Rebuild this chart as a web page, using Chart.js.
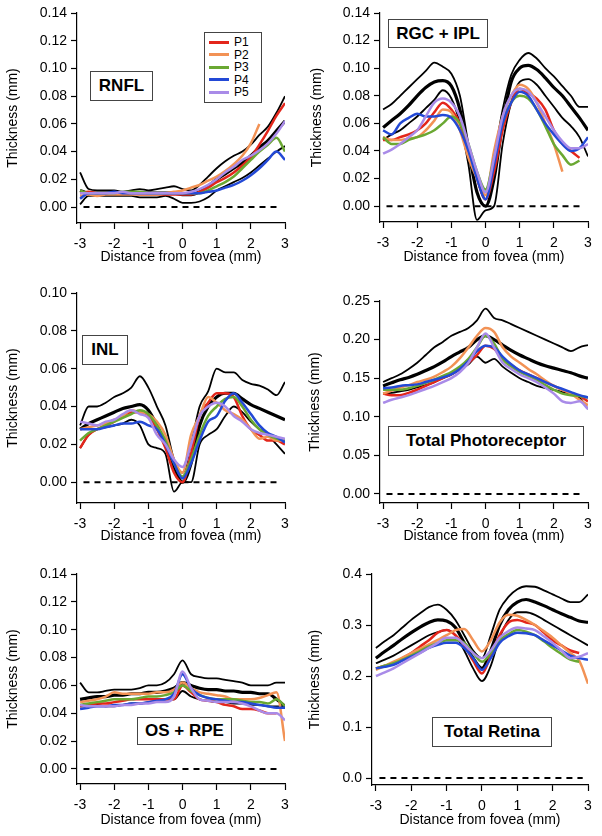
<!DOCTYPE html>
<html>
<head>
<meta charset="utf-8">
<title>Layer thickness vs distance from fovea</title>
<script src="https://cdn.jsdelivr.net/npm/chart.js@4.4.1/dist/chart.umd.min.js"></script>
<style>
  body { margin: 0; background: #fff; width: 602px; height: 836px; position: relative; overflow: hidden;
         font-family: "Liberation Sans", Arial, sans-serif; }
  canvas { position: absolute; }
  .tag { position: absolute; box-sizing: border-box; border: 1px solid #444; background: #fff;
         font-weight: bold; font-size: 17px; color: #000;
         display: flex; align-items: center; justify-content: center; white-space: nowrap; }
  .legend { position: absolute; box-sizing: border-box; border: 1px solid #444; background: #fff;
            font-size: 12px; color: #000; padding: 3px 0 0 4px; }
  .legend div { height: 12.5px; line-height: 12.5px; display: flex; align-items: center; }
  .legend span.swatch { display: inline-block; width: 20px; height: 3px; margin-right: 5px; }
</style>
</head>
<body>

<canvas id="rnfl" width="300" height="270" style="left:0;top:0"></canvas>
<canvas id="rgc" width="302" height="270" style="left:300px;top:0"></canvas>
<canvas id="inl" width="300" height="280" style="left:0;top:270px"></canvas>
<canvas id="photo" width="302" height="280" style="left:300px;top:270px"></canvas>
<canvas id="osrpe" width="300" height="286" style="left:0;top:550px"></canvas>
<canvas id="retina" width="302" height="286" style="left:300px;top:550px"></canvas>

<div class="tag" style="left:90px;top:71px;width:63px;height:30px">RNFL</div>
<div class="tag" style="left:388px;top:19px;width:100px;height:29px">RGC + IPL</div>
<div class="tag" style="left:82px;top:335px;width:46px;height:30px">INL</div>
<div class="tag" style="left:388px;top:426px;width:196px;height:30px">Total Photoreceptor</div>
<div class="tag" style="left:137px;top:717px;width:95px;height:28px">OS + RPE</div>
<div class="tag" style="left:432px;top:717px;width:120px;height:30px">Total Retina</div>
<div class="legend" id="legend" style="left:204px;top:32px;width:58px;height:71px"></div>

<script>
// x positions (mm from fovea)
const distance = [-3, -2.75, -2.5, -2.25, -2, -1.75, -1.5, -1.25, -1, -0.75, -0.5, -0.25,
                  0, 0.25, 0.5, 0.75, 1, 1.25, 1.5, 1.75, 2, 2.25, 2.5, 2.75, 3];
const distanceTicks = [-3, -2, -1, 0, 1, 2, 3];
const zeroLineX = [-2.9, 2.85];

const seriesNames = ['P1', 'P2', 'P3', 'P4', 'P5'];
const seriesColors = ['#e3261b', '#f29255', '#6aa832', '#2349d6', '#a98be8'];

// RNFL
const rnflTicks = [0, 0.02, 0.04, 0.06, 0.08, 0.10, 0.12, 0.14];
const rnflUpper = [0.025, 0.013, 0.012, 0.012, 0.012, 0.011, 0.012, 0.013, 0.012, 0.013, 0.014, 0.015, 0.013, 0.012, 0.016, 0.022, 0.028, 0.033, 0.037, 0.040, 0.045, 0.052, 0.058, 0.068, 0.080];
const rnflMean  = [0.012, 0.010, 0.010, 0.010, 0.010, 0.010, 0.010, 0.010, 0.010, 0.010, 0.010, 0.010, 0.009, 0.009, 0.011, 0.015, 0.020, 0.024, 0.028, 0.032, 0.037, 0.043, 0.048, 0.055, 0.062];
const rnflLower = [0.002, 0.008, 0.008, 0.008, 0.008, 0.008, 0.008, 0.007, 0.007, 0.007, 0.008, 0.006, 0.003, 0.003, 0.004, 0.007, 0.012, 0.015, 0.018, 0.021, 0.025, 0.030, 0.035, 0.040, 0.044];
const rnflP1 = [0.010, 0.011, 0.010, 0.010, 0.010, 0.010, 0.010, 0.009, 0.009, 0.009, 0.009, 0.009, 0.009, 0.009, 0.011, 0.014, 0.018, 0.021, 0.025, 0.030, 0.036, 0.045, 0.055, 0.066, 0.075];
const rnflP2 = [0.008, 0.009, 0.008, 0.009, 0.009, 0.009, 0.009, 0.009, 0.009, 0.009, 0.010, 0.011, 0.012, 0.014, 0.016, 0.019, 0.022, 0.026, 0.031, 0.037, 0.046, 0.060, null, null, null];
const rnflP3 = [0.012, 0.010, 0.010, 0.010, 0.010, 0.011, 0.011, 0.011, 0.010, 0.010, 0.010, 0.010, 0.010, 0.010, 0.010, 0.012, 0.015, 0.018, 0.022, 0.028, 0.034, 0.040, 0.045, 0.050, 0.040];
const rnflP4 = [0.006, 0.010, 0.010, 0.010, 0.011, 0.010, 0.010, 0.010, 0.010, 0.010, 0.010, 0.010, 0.010, 0.010, 0.010, 0.011, 0.012, 0.014, 0.016, 0.019, 0.023, 0.028, 0.034, 0.040, 0.034];
const rnflP5 = [0.010, 0.010, 0.010, 0.010, 0.010, 0.011, 0.010, 0.010, 0.010, 0.010, 0.010, 0.010, 0.010, 0.011, 0.013, 0.016, 0.020, 0.025, 0.029, 0.034, 0.037, 0.041, 0.046, 0.053, 0.062];

// RGC + IPL
const rgcTicks = [0, 0.02, 0.04, 0.06, 0.08, 0.10, 0.12, 0.14];
const rgcUpper = [0.070, 0.074, 0.080, 0.086, 0.092, 0.098, 0.104, 0.101, 0.096, 0.080, 0.045, 0.020, 0.005, 0.035, 0.070, 0.095, 0.106, 0.111, 0.107, 0.100, 0.094, 0.087, 0.080, 0.072, 0.072];
const rgcMean  = [0.057, 0.062, 0.067, 0.073, 0.080, 0.086, 0.090, 0.091, 0.087, 0.070, 0.040, 0.010, 0.000, 0.020, 0.060, 0.090, 0.100, 0.102, 0.099, 0.093, 0.086, 0.080, 0.072, 0.064, 0.055];
const rgcLower = [0.048, 0.052, 0.055, 0.060, 0.065, 0.071, 0.077, 0.084, 0.078, 0.060, 0.030, -0.010, -0.003, 0.000, 0.045, 0.075, 0.090, 0.092, 0.088, 0.080, 0.072, 0.064, 0.058, 0.050, 0.036];
const rgcP1 = [0.048, 0.048, 0.050, 0.052, 0.055, 0.060, 0.068, 0.075, 0.070, 0.060, 0.040, 0.020, 0.005, 0.025, 0.055, 0.075, 0.085, 0.082, 0.078, 0.070, 0.055, 0.045, 0.040, 0.035, null];
const rgcP2 = [0.050, 0.048, 0.048, 0.049, 0.050, 0.055, 0.062, 0.070, 0.068, 0.055, 0.035, 0.020, 0.008, 0.040, 0.065, 0.080, 0.088, 0.085, 0.075, 0.060, 0.045, 0.025, null, null, null];
const rgcP3 = [0.050, 0.045, 0.045, 0.048, 0.050, 0.052, 0.055, 0.060, 0.065, 0.060, 0.045, 0.025, 0.012, 0.035, 0.060, 0.075, 0.080, 0.078, 0.070, 0.058, 0.045, 0.037, 0.030, 0.033, null];
const rgcP4 = [0.055, 0.052, 0.060, 0.064, 0.067, 0.065, 0.065, 0.066, 0.064, 0.055, 0.040, 0.020, 0.005, 0.030, 0.060, 0.075, 0.083, 0.080, 0.070, 0.060, 0.052, 0.045, 0.040, 0.042, 0.050];
const rgcP5 = [0.038, 0.041, 0.045, 0.050, 0.055, 0.065, 0.075, 0.078, 0.075, 0.065, 0.045, 0.025, 0.010, 0.035, 0.065, 0.080, 0.085, 0.083, 0.075, 0.065, 0.055, 0.047, 0.042, 0.042, 0.045];

// INL
const inlTicks = [0, 0.02, 0.04, 0.06, 0.08, 0.10];
const inlUpper = [0.030, 0.040, 0.040, 0.042, 0.045, 0.047, 0.050, 0.056, 0.050, 0.040, 0.030, 0.012, 0.005, 0.020, 0.040, 0.048, 0.060, 0.058, 0.058, 0.054, 0.052, 0.051, 0.049, 0.046, 0.053];
const inlMean  = [0.028, 0.031, 0.033, 0.035, 0.037, 0.039, 0.040, 0.041, 0.038, 0.030, 0.020, 0.008, 0.000, 0.010, 0.030, 0.040, 0.045, 0.047, 0.047, 0.044, 0.041, 0.039, 0.037, 0.035, 0.033];
const inlLower = [0.018, 0.025, 0.028, 0.029, 0.030, 0.031, 0.033, 0.030, 0.020, 0.018, 0.015, -0.005, 0.000, 0.000, 0.020, 0.025, 0.028, 0.035, 0.040, 0.037, 0.032, 0.028, 0.025, 0.020, 0.015];
const inlP1 = [0.018, 0.025, 0.028, 0.030, 0.032, 0.035, 0.037, 0.037, 0.035, 0.028, 0.018, 0.005, 0.000, 0.015, 0.035, 0.042, 0.047, 0.047, 0.045, 0.035, 0.028, 0.025, 0.022, 0.022, 0.020];
const inlP2 = [0.028, 0.029, 0.030, 0.031, 0.033, 0.035, 0.038, 0.037, 0.036, 0.032, 0.025, 0.012, 0.005, 0.025, 0.035, 0.045, 0.042, 0.038, 0.036, 0.033, 0.028, 0.023, 0.024, 0.022, 0.022];
const inlP3 = [0.022, 0.026, 0.028, 0.030, 0.032, 0.034, 0.036, 0.038, 0.036, 0.030, 0.022, 0.010, 0.003, 0.012, 0.025, 0.035, 0.040, 0.044, 0.045, 0.040, 0.033, 0.028, 0.025, 0.023, 0.022];
const inlP4 = [0.028, 0.028, 0.028, 0.029, 0.030, 0.031, 0.031, 0.032, 0.030, 0.028, 0.020, 0.010, 0.002, 0.010, 0.022, 0.032, 0.035, 0.043, 0.047, 0.042, 0.036, 0.030, 0.026, 0.024, 0.021];
const inlP5 = [0.032, 0.031, 0.030, 0.032, 0.033, 0.036, 0.038, 0.036, 0.034, 0.025, 0.020, 0.012, 0.008, 0.020, 0.035, 0.040, 0.042, 0.040, 0.035, 0.032, 0.028, 0.026, 0.025, 0.024, 0.023];

// Total Photoreceptor
const photoTicks = [0, 0.05, 0.10, 0.15, 0.20, 0.25];
const photoUpper = [0.145, 0.150, 0.155, 0.162, 0.170, 0.180, 0.190, 0.197, 0.205, 0.210, 0.215, 0.225, 0.240, 0.228, 0.225, 0.220, 0.215, 0.210, 0.205, 0.200, 0.195, 0.190, 0.185, 0.190, 0.193];
const photoMean  = [0.140, 0.144, 0.148, 0.151, 0.155, 0.160, 0.165, 0.171, 0.178, 0.184, 0.190, 0.200, 0.205, 0.200, 0.193, 0.186, 0.180, 0.175, 0.170, 0.166, 0.163, 0.160, 0.157, 0.153, 0.150];
const photoLower = [0.130, 0.131, 0.133, 0.135, 0.138, 0.141, 0.145, 0.150, 0.155, 0.161, 0.168, 0.178, 0.170, 0.175, 0.165, 0.157, 0.150, 0.145, 0.140, 0.137, 0.135, 0.132, 0.130, 0.125, 0.110];
const photoP1 = [0.130, 0.128, 0.128, 0.131, 0.135, 0.140, 0.145, 0.150, 0.155, 0.162, 0.170, 0.180, 0.192, 0.188, 0.175, 0.167, 0.160, 0.155, 0.150, 0.145, 0.140, 0.135, 0.130, 0.127, 0.120];
const photoP2 = [0.130, 0.134, 0.138, 0.141, 0.145, 0.148, 0.152, 0.158, 0.165, 0.176, 0.190, 0.205, 0.215, 0.210, 0.190, 0.178, 0.170, 0.162, 0.155, 0.147, 0.140, 0.135, 0.130, 0.122, 0.115];
const photoP3 = [0.135, 0.135, 0.135, 0.137, 0.140, 0.144, 0.148, 0.153, 0.158, 0.165, 0.175, 0.190, 0.205, 0.195, 0.175, 0.165, 0.158, 0.153, 0.148, 0.141, 0.135, 0.130, 0.128, 0.127, 0.125];
const photoP4 = [0.137, 0.138, 0.140, 0.141, 0.142, 0.145, 0.148, 0.151, 0.155, 0.162, 0.172, 0.185, 0.192, 0.190, 0.178, 0.168, 0.160, 0.155, 0.150, 0.145, 0.140, 0.136, 0.132, 0.128, 0.125];
const photoP5 = [0.118, 0.122, 0.125, 0.128, 0.132, 0.136, 0.140, 0.145, 0.150, 0.158, 0.170, 0.190, 0.208, 0.190, 0.170, 0.162, 0.155, 0.150, 0.145, 0.138, 0.130, 0.120, 0.118, 0.120, 0.110];

// OS + RPE
const osTicks = [0, 0.02, 0.04, 0.06, 0.08, 0.10, 0.12, 0.14];
const osUpper = [0.062, 0.055, 0.055, 0.056, 0.057, 0.057, 0.057, 0.058, 0.060, 0.060, 0.062, 0.068, 0.078, 0.068, 0.066, 0.065, 0.065, 0.064, 0.063, 0.062, 0.060, 0.060, 0.060, 0.062, 0.062];
const osMean  = [0.050, 0.051, 0.052, 0.052, 0.053, 0.053, 0.054, 0.054, 0.055, 0.055, 0.056, 0.058, 0.062, 0.060, 0.058, 0.057, 0.057, 0.056, 0.056, 0.055, 0.055, 0.054, 0.054, 0.050, 0.045];
const osLower = [0.045, 0.045, 0.046, 0.045, 0.045, 0.046, 0.047, 0.047, 0.048, 0.049, 0.050, 0.050, 0.056, 0.052, 0.050, 0.049, 0.048, 0.048, 0.047, 0.047, 0.046, 0.046, 0.045, 0.045, 0.045];
const osP1 = [0.045, 0.046, 0.047, 0.047, 0.048, 0.049, 0.050, 0.050, 0.050, 0.050, 0.050, 0.050, 0.060, 0.055, 0.050, 0.049, 0.048, 0.046, 0.045, 0.043, 0.043, 0.042, 0.040, 0.040, null];
const osP2 = [0.048, 0.049, 0.050, 0.052, 0.055, 0.054, 0.054, 0.054, 0.054, 0.055, 0.055, 0.057, 0.062, 0.058, 0.055, 0.054, 0.053, 0.052, 0.050, 0.050, 0.050, 0.051, 0.053, 0.055, 0.020];
const osP3 = [0.046, 0.047, 0.048, 0.049, 0.050, 0.050, 0.050, 0.051, 0.052, 0.052, 0.053, 0.055, 0.060, 0.056, 0.053, 0.051, 0.050, 0.050, 0.050, 0.049, 0.048, 0.048, 0.047, 0.050, 0.045];
const osP4 = [0.043, 0.044, 0.045, 0.045, 0.046, 0.046, 0.047, 0.047, 0.048, 0.049, 0.050, 0.054, 0.068, 0.058, 0.053, 0.051, 0.050, 0.049, 0.048, 0.048, 0.047, 0.046, 0.045, 0.044, 0.044];
const osP5 = [0.046, 0.045, 0.045, 0.045, 0.045, 0.046, 0.046, 0.047, 0.047, 0.048, 0.048, 0.052, 0.070, 0.058, 0.050, 0.049, 0.048, 0.048, 0.048, 0.047, 0.045, 0.042, 0.040, 0.040, 0.035];

// Total Retina
const retinaTicks = [0, 0.1, 0.2, 0.3, 0.4];
const retinaUpper = [0.255, 0.268, 0.280, 0.295, 0.310, 0.323, 0.335, 0.340, 0.330, 0.310, 0.280, 0.250, 0.235, 0.280, 0.330, 0.355, 0.370, 0.376, 0.375, 0.368, 0.360, 0.352, 0.345, 0.345, 0.360];
const retinaMean  = [0.235, 0.248, 0.260, 0.273, 0.285, 0.296, 0.305, 0.310, 0.308, 0.295, 0.265, 0.235, 0.215, 0.250, 0.300, 0.330, 0.345, 0.350, 0.345, 0.338, 0.330, 0.322, 0.315, 0.308, 0.305];
const retinaLower = [0.225, 0.232, 0.240, 0.250, 0.260, 0.270, 0.280, 0.286, 0.290, 0.280, 0.250, 0.215, 0.190, 0.220, 0.275, 0.310, 0.325, 0.325, 0.320, 0.310, 0.300, 0.290, 0.280, 0.270, 0.260];
const retinaP1 = [0.215, 0.220, 0.225, 0.235, 0.245, 0.258, 0.270, 0.285, 0.290, 0.280, 0.260, 0.230, 0.205, 0.240, 0.280, 0.305, 0.310, 0.305, 0.300, 0.285, 0.270, 0.260, 0.250, 0.245, null];
const retinaP2 = [0.212, 0.220, 0.228, 0.236, 0.245, 0.253, 0.262, 0.271, 0.280, 0.290, 0.292, 0.270, 0.248, 0.270, 0.305, 0.320, 0.318, 0.310, 0.300, 0.288, 0.275, 0.260, 0.245, 0.230, 0.185];
const retinaP3 = [0.215, 0.220, 0.225, 0.232, 0.240, 0.249, 0.258, 0.265, 0.270, 0.270, 0.265, 0.245, 0.228, 0.245, 0.270, 0.282, 0.290, 0.287, 0.280, 0.268, 0.255, 0.243, 0.232, 0.228, null];
const retinaP4 = [0.215, 0.218, 0.222, 0.230, 0.238, 0.246, 0.255, 0.261, 0.265, 0.265, 0.255, 0.235, 0.212, 0.235, 0.265, 0.278, 0.285, 0.284, 0.280, 0.270, 0.260, 0.250, 0.240, 0.235, 0.232];
const retinaP5 = [0.200, 0.207, 0.215, 0.225, 0.235, 0.245, 0.255, 0.265, 0.275, 0.275, 0.262, 0.245, 0.235, 0.250, 0.275, 0.288, 0.295, 0.293, 0.290, 0.278, 0.265, 0.250, 0.235, 0.238, 0.245];

Chart.defaults.font.family = '"Liberation Sans", Arial, sans-serif';
Chart.defaults.color = '#000';

// panel layout (pixel boxes for each canvas)
const panels = [
  { id: 'rnfl', yTicks: rnflTicks, dec: 2, min: -0.0115, max: 0.14, upper: rnflUpper, mean: rnflMean, lower: rnflLower,
    patients: [rnflP1, rnflP2, rnflP3, rnflP4, rnflP5], yw: 77, xh: 47, pt: 13, pr: 15, xmin: -3.09, ytp: 5, xtp: 4 },
  { id: 'rgc', yTicks: rgcTicks, dec: 2, min: -0.0115, max: 0.14, upper: rgcUpper, mean: rgcMean, lower: rgcLower,
    patients: [rgcP1, rgcP2, rgcP3, rgcP4, rgcP5], yw: 80, xh: 48, pt: 13, pr: 14, xmin: -3.09, ytp: 9, xtp: 4 },
  { id: 'inl', yTicks: inlTicks, dec: 2, min: -0.011, max: 0.10, upper: inlUpper, mean: inlMean, lower: inlLower,
    patients: [inlP1, inlP2, inlP3, inlP4, inlP5], yw: 77, xh: 47, pt: 23, pr: 15, xmin: -3.09, ytp: 5, xtp: 5 },
  { id: 'photo', yTicks: photoTicks, dec: 2, min: -0.0117, max: 0.25, upper: photoUpper, mean: photoMean, lower: photoLower,
    patients: [photoP1, photoP2, photoP3, photoP4, photoP5], yw: 80, xh: 47, pt: 31, pr: 14, xmin: -3.09, ytp: 7, xtp: 5 },
  { id: 'osrpe', yTicks: osTicks, dec: 2, min: -0.0108, max: 0.14, upper: osUpper, mean: osMean, lower: osLower,
    patients: [osP1, osP2, osP3, osP4, osP5], yw: 77, xh: 52, pt: 24, pr: 15, xmin: -3.09, ytp: 5, xtp: 7 },
  { id: 'retina', yTicks: retinaTicks, dec: 1, min: -0.0137, max: 0.4, upper: retinaUpper, mean: retinaMean, lower: retinaLower,
    patients: [retinaP1, retinaP2, retinaP3, retinaP4, retinaP5], yw: 72, xh: 51, pt: 24, pr: 14, xmin: -3.11, ytp: 7, xtp: 7 }
];

function toPoints(values) {
  return distance.map((x, i) => ({ x: x, y: values[i] }));
}

function buildDatasets(p) {
  const sets = [];
  // patients on top, P5 drawn last
  p.patients.forEach((vals, k) => {
    sets.push({ label: seriesNames[k], data: toPoints(vals), borderColor: seriesColors[k], borderWidth: 2.5, order: 4 - k });
  });
  sets.push({ label: 'upper', data: toPoints(p.upper), borderColor: '#000', borderWidth: 1.8, order: 5 });
  sets.push({ label: 'mean', data: toPoints(p.mean), borderColor: '#000', borderWidth: 3.2, order: 6 });
  sets.push({ label: 'lower', data: toPoints(p.lower), borderColor: '#000', borderWidth: 1.8, order: 7 });
  sets.push({ label: 'zero', data: zeroLineX.map(x => ({ x: x, y: 0 })), borderColor: '#000', borderWidth: 2,
              borderDash: [6, 5], cubicInterpolationMode: 'default', tension: 0, order: 8 });
  return sets;
}

function drawPanel(p) {
  const ctx = document.getElementById(p.id);
  new Chart(ctx, {
    type: 'line',
    data: { datasets: buildDatasets(p) },
    options: {
      responsive: false,
      animation: false,
      layout: { padding: { top: p.pt, right: p.pr, left: 0, bottom: 0 } },
      plugins: { legend: { display: false }, tooltip: { enabled: false } },
      elements: { point: { radius: 0 }, line: { cubicInterpolationMode: 'monotone', fill: false } },
      scales: {
        x: {
          type: 'linear', min: p.xmin, max: 3,
          afterBuildTicks: s => { s.ticks = distanceTicks.map(v => ({ value: v })); },
          afterFit: s => { s.height = p.xh; },
          grid: { display: true, drawOnChartArea: false, drawTicks: true, tickLength: 6, tickColor: '#000', tickWidth: 1.2 },
          border: { display: true, color: '#000', width: 1.2 },
          ticks: { font: { size: 14 }, padding: 7, maxRotation: 0, autoSkip: false, callback: v => String(v) },
          title: { display: true, text: 'Distance from fovea (mm)', font: { size: 14 }, padding: { top: 0, bottom: p.xtp } }
        },
        y: {
          type: 'linear', min: p.min, max: p.max,
          afterBuildTicks: s => { s.ticks = p.yTicks.map(v => ({ value: v })); },
          afterFit: s => { s.width = p.yw; },
          grid: { display: true, drawOnChartArea: false, drawTicks: true, tickLength: 6, tickColor: '#000', tickWidth: 1.2 },
          border: { display: true, color: '#000', width: 1.2 },
          ticks: { font: { size: 14 }, padding: 4, autoSkip: false, callback: v => v.toFixed(p.dec) },
          title: { display: true, text: 'Thickness (mm)', font: { size: 14 }, padding: { top: p.ytp, bottom: 0 } }
        }
      }
    }
  });
}

panels.forEach(drawPanel);

// legend for the patient series (top-left panel)
const legendBox = document.getElementById('legend');
seriesNames.forEach((name, k) => {
  const row = document.createElement('div');
  row.innerHTML = '<span class="swatch" style="background:' + seriesColors[k] + '"></span>' + name;
  legendBox.appendChild(row);
});
</script>
</body>
</html>
